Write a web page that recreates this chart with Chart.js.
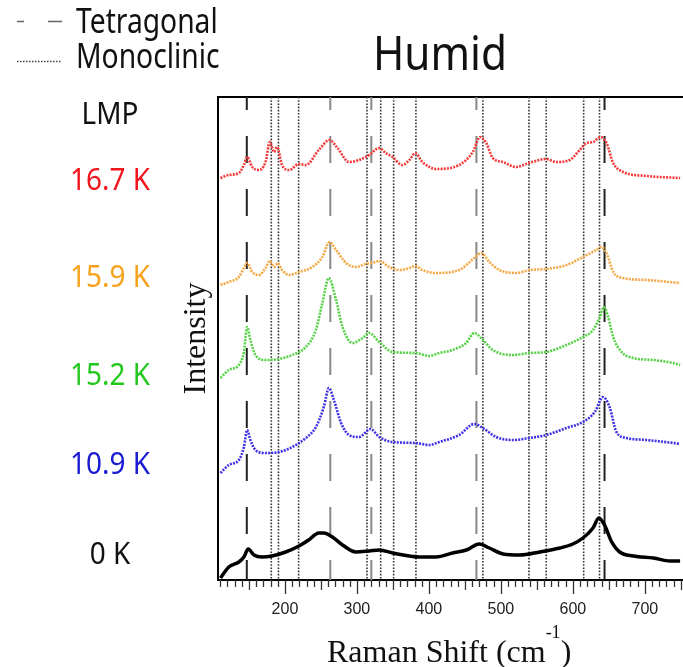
<!DOCTYPE html>
<html>
<head>
<meta charset="utf-8">
<title>Humid</title>
<script src="https://cdn.jsdelivr.net/npm/chart.js@4.4.1/dist/chart.umd.min.js"></script>
<style>
  body { margin: 0; background: #fff; }
  #wrap { position: relative; width: 683px; height: 667px; overflow: hidden; }
  #chart { position: absolute; left: 0; top: 0; }
  .sans { position: absolute; font-family: "Noto Sans", sans-serif; line-height: 1; white-space: nowrap; }
  .lmp { font-size: 31px; transform: translate(-50%, -50%) scaleX(0.9); }
  .key { font-size: 34px; color: #111; transform-origin: 0 50%; transform: translateY(-50%) scaleX(0.83); }
  #title { font-size: 47px; color: #111; left: 440px; top: 52px; transform: translate(-50%, -50%) scaleX(0.9); }
  #xtitle { position: absolute; left: 327px; top: 635px; font-family: "Liberation Serif", serif; font-size: 32px; line-height: 1; white-space: nowrap; color: #111; }
  #xtitle .sup { position: relative; top: -24px; font-size: 18px; line-height: 0; }
  #keylines { position: absolute; left: 0; top: 0; }
</style>
</head>
<body>
<div id="wrap">
  <canvas id="chart" width="683" height="667"></canvas>
  <svg id="keylines" width="80" height="80">
    <line x1="17" y1="21.5" x2="62" y2="21.5" stroke="#666" stroke-width="1.5" stroke-dasharray="7 24 14"></line>
    <line x1="17" y1="61.5" x2="62" y2="61.5" stroke="#444" stroke-width="1.5" stroke-dasharray="1.5 1.5"></line>
  </svg>
  <div class="sans key" style="left:76px; top:20px;">Tetragonal</div>
  <div class="sans key" style="left:76px; top:55px;">Monoclinic</div>
  <div class="sans" id="title">Humid</div>
  <div id="lmp"></div>
  <div id="xtitle">Raman Shift (cm<span class="sup">-1</span>)</div>
</div>
<script>
// axis limits (cm-1 and arbitrary stacked intensity)
const X_MIN = 107;
const X_MAX = 753;
const Y_MIN = 0;
const Y_MAX = 483;

// reference band positions
const tetragonal = [147, 263, 320, 466, 644];
const monoclinic = [181, 191, 219, 314, 333, 351, 382, 475, 539, 563, 615, 637];

// 0 K
const shift0 = [110.5, 122, 136, 143, 149, 157, 168, 182, 201, 219.5, 233, 247, 254, 266, 280, 298.5, 317, 331, 349.5, 373, 387, 410, 433, 452, 470, 484, 503, 526, 554, 582, 600, 614, 628, 636, 644, 654, 665, 684, 712, 735, 749];
const int0 = [2, 13, 18, 23, 31, 25, 23, 24, 28, 34, 40, 47, 47, 43, 35, 28, 29, 30, 27, 24, 23, 23, 27, 30, 36, 32, 26, 25, 28, 32, 36, 42, 52, 62, 55, 38, 28, 24, 22, 19, 19];

// 10.9 K
const shift109 = [110.5, 122, 136, 143, 147.5, 152, 159, 173, 192, 210, 229, 243, 254, 261, 268, 278, 289, 303, 319, 331, 349.5, 382, 400.6, 414.5, 442, 463, 475, 493.5, 516.6, 540, 563, 591, 614, 630.4, 642, 651, 660.6, 674.5, 702.4, 739.5, 749];
const int109 = [107, 115, 120, 133, 150, 140, 130, 127, 128, 133, 142, 153, 173, 192, 180, 157, 145, 143, 151, 143, 138, 137, 135, 138, 145, 156, 152, 143, 140, 142, 145, 152, 158, 168, 183, 173, 148, 142, 140, 137, 136];

// 15.2 K
const shift152 = [110.5, 122, 136, 143, 147.5, 152, 159, 173, 192, 210, 229, 243, 252, 261, 271, 280, 294, 308, 317, 331, 349.5, 382, 400.6, 414.5, 433, 451.7, 463, 475, 488.7, 516.6, 540, 563, 591, 614, 628, 637.4, 643, 649, 656, 667.6, 683.7, 711.6, 739.5, 749];
const int152 = [202, 210, 215, 228, 253, 240, 225, 220, 221, 225, 233, 250, 277, 302, 280, 253, 237, 242, 247, 238, 228, 227, 224, 227, 230, 237, 247, 240, 230, 225, 227, 228, 235, 243, 250, 263, 273, 263, 243, 228, 222, 220, 217, 215];

// 15.9 K
const shift159 = [110.5, 122, 136, 143, 147.5, 154.5, 164, 173, 179, 185, 190, 196, 206, 219.5, 238, 252, 262, 271, 285, 298.5, 312, 326, 331, 345, 359, 373, 381, 391, 410, 442, 463, 472.6, 484, 498, 521, 540, 563, 591, 614, 632.7, 639.7, 646.7, 656, 670, 702.4, 749];
const int159 = [295, 298, 303, 312, 317, 308, 305, 312, 319, 313, 317, 310, 305, 308, 313, 323, 338, 330, 317, 313, 316, 318, 319, 313, 310, 312, 314, 310, 307, 310, 322, 327, 318, 310, 307, 310, 311, 315, 323, 330, 333, 327, 308, 302, 300, 297];

// 16.7 K
const shift167 = [110.5, 122, 136, 143, 147.5, 154.5, 164, 173, 179, 185, 189, 196, 206, 219.5, 229, 247, 262, 273, 289, 303, 317, 331, 340, 349.5, 363, 373, 381, 391, 410, 442, 461, 471, 479.6, 488.7, 502.7, 521, 539, 563, 577, 595.6, 609.5, 618.8, 628, 638.3, 646.7, 656, 670, 702.4, 749];
const int167 = [402, 405, 407, 415, 423, 413, 410, 418, 438, 428, 433, 415, 410, 416, 415, 430, 440, 432, 418, 420, 425, 432, 427, 423, 415, 420, 427, 418, 411, 415, 428, 443, 437, 422, 418, 413, 417, 421, 418, 420, 430, 437, 438, 443, 437, 417, 408, 404, 402];

const lmpLabels = ["16.7 K", "15.9 K", "15.2 K", "10.9 K", "0 K"];

const spectra = [
  { label: lmpLabels[0], x: shift167, y: int167, line: "#f43a3a", text: "#f2141c", top: 178 },
  { label: lmpLabels[1], x: shift159, y: int159, line: "#f5a743", text: "#f7a21b", top: 275 },
  { label: lmpLabels[2], x: shift152, y: int152, line: "#55d245", text: "#22c81e", top: 373 },
  { label: lmpLabels[3], x: shift109, y: int109, line: "#4030e6", text: "#1a1ad2", top: 462 },
  { label: lmpLabels[4], x: shift0, y: int0, line: "#000", text: "#111", top: 552 }
];

const zip = (xs, ys) => xs.map((x, i) => ({ x, y: ys[i] }));

function bandLine(pos, dashed, i) {
  const edge = i === 0 || i === tetragonal.length - 1;
  return {
    data: [{ x: pos, y: Y_MAX }, { x: pos, y: Y_MIN }],
    borderColor: dashed ? (edge ? "#222" : "#888") : "#333",
    borderWidth: dashed ? 2 : 1.6,
    borderDash: dashed ? [27, 26] : [1.6, 1.6],
    borderDashOffset: dashed ? 14 : 0,
    pointRadius: 0,
    tension: 0
  };
}

const datasets = [];
spectra.forEach((s) => {
  const solid = s.line === "#000";
  datasets.push({
    label: s.label,
    data: zip(s.x, s.y),
    borderColor: s.line,
    borderWidth: solid ? 3.5 : 2.6,
    borderDash: solid ? [] : [2, 1.2],
    pointRadius: 0,
    cubicInterpolationMode: "monotone"
  });
});
tetragonal.forEach((p, i) => datasets.push(bandLine(p, true, i)));
monoclinic.forEach((p, i) => datasets.push(bandLine(p, false, i)));

// long ticks at 100, medium at 50, short every 10
const axisMarks = {
  id: "axisMarks",
  afterDraw(chart) {
    const scale = chart.scales.x;
    const ctx = chart.ctx;
    const y0 = scale.top;
    ctx.save();
    ctx.strokeStyle = "#333";
    ctx.lineWidth = 1.3;
    for (let v = Math.ceil(scale.min / 10) * 10; v <= scale.max; v += 10) {
      const len = v % 100 === 0 ? 14 : v % 50 === 0 ? 10 : 7;
      const px = Math.round(scale.getPixelForValue(v)) + 0.5;
      ctx.beginPath();
      ctx.moveTo(px, y0);
      ctx.lineTo(px, y0 + len);
      ctx.stroke();
    }
    ctx.restore();
  }
};

new Chart(document.getElementById("chart"), {
  type: "line",
  data: { datasets },
  options: {
    responsive: false,
    animation: false,
    layout: { padding: { left: 173, top: 97, right: 0, bottom: 42 } },
    plugins: { legend: { display: false }, tooltip: { enabled: false } },
    scales: {
      x: {
        type: "linear",
        min: X_MIN,
        max: X_MAX,
        // invisible tick marks only push the labels down; the visible ones come from axisMarks
        grid: { drawOnChartArea: false, drawTicks: true, tickLength: 20, tickColor: "rgba(0,0,0,0)" },
        border: { display: true, width: 2, color: "#000" },
        ticks: {
          stepSize: 100,
          includeBounds: false,
          autoSkip: false,
          maxRotation: 0,
          padding: 0,
          color: "#222",
          font: { family: "Liberation Sans", size: 16 }
        },
        afterFit: (axis) => { axis.height = 45; }
      },
      xTop: {
        type: "linear",
        position: "top",
        min: X_MIN,
        max: X_MAX,
        grid: { drawOnChartArea: false, drawTicks: false },
        border: { display: true, width: 2, color: "#000" },
        ticks: { display: false, padding: 0 },
        afterFit: (axis) => { axis.height = 0; }
      },
      y: {
        min: Y_MIN,
        max: Y_MAX,
        grid: { drawOnChartArea: false, drawTicks: false },
        border: { display: true, width: 2, color: "#000" },
        ticks: { display: false },
        title: {
          display: true,
          text: "Intensity",
          color: "#111",
          font: { family: "Liberation Serif", size: 32 }
        },
        afterFit: (axis) => { axis.width = 45; }
      }
    }
  },
  plugins: [axisMarks]
});

// LMP column at the left
const lmp = document.getElementById("lmp");
const head = document.createElement("div");
head.className = "sans lmp";
head.style.cssText = "left:109.5px; top:112px; color:#111;";
head.textContent = "LMP";
lmp.appendChild(head);
spectra.forEach((s) => {
  const el = document.createElement("div");
  el.className = "sans lmp";
  el.style.left = "109.5px";
  el.style.top = s.top + "px";
  el.style.color = s.text;
  el.textContent = s.label;
  lmp.appendChild(el);
});
</script>
</body>
</html>
